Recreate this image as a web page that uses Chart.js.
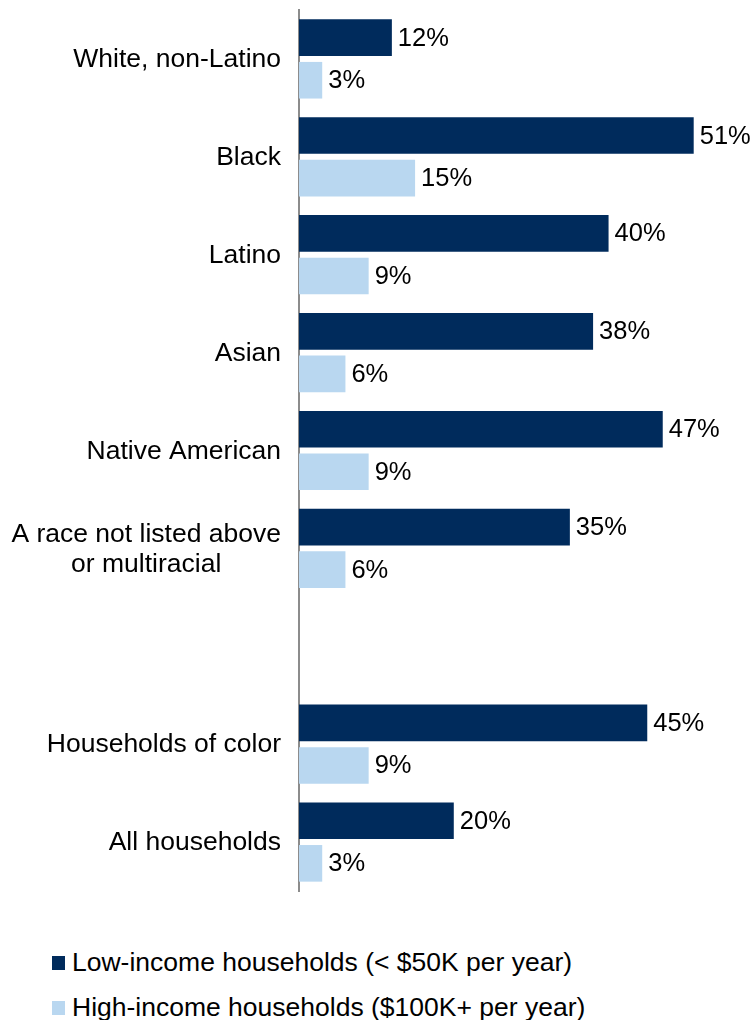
<!DOCTYPE html>
<html>
<head>
<meta charset="utf-8">
<script src="https://cdn.jsdelivr.net/npm/chart.js@4/dist/chart.umd.min.js"></script>
<style>
  body { margin: 0; background: #fff; font-family: "Liberation Sans", Arial, sans-serif; }
  #wrap { position: relative; width: 752px; height: 920px; }
  #legend { position: absolute; left: 52px; top: 940px; }
  .item { display: flex; align-items: center; height: 45px; font-size: 26.5px; color: #000; }
  .box { width: 13px; height: 14px; margin-right: 7px; }
</style>
</head>
<body>
<div id="wrap"><canvas id="myChart"></canvas></div>
<div id="legend"></div>
<script>
const categories = [
  'White, non-Latino',
  'Black',
  'Latino',
  'Asian',
  'Native American',
  ['A race not listed above', 'or multiracial'],
  '',
  'Households of color',
  'All households'
];
const lowIncome = [12, 51, 40, 38, 47, 35, null, 45, 20];
const highIncome = [3, 15, 9, 6, 9, 6, null, 9, 3];
const seriesNames = ['Low-income households (< $50K per year)', 'High-income households ($100K+ per year)'];
const seriesColors = ['#002B5C', '#B9D7F0'];

const FONT = '26.5px "Liberation Sans", Arial, sans-serif';
const VALUE_FONT = '25.5px "Liberation Sans", Arial, sans-serif';

// value labels at the end of each bar
const valueLabels = {
  id: 'valueLabels',
  afterDatasetsDraw(chart) {
    const ctx = chart.ctx;
    ctx.save();
    ctx.font = VALUE_FONT;
    ctx.fillStyle = '#000';
    ctx.textAlign = 'left';
    ctx.textBaseline = 'middle';
    chart.data.datasets.forEach((ds, i) => {
      chart.getDatasetMeta(i).data.forEach((bar, j) => {
        if (ds.data[j] == null) return;
        ctx.fillText(ds.data[j] + '%', bar.x + 6, bar.y + 1);
      });
    });
    ctx.restore();
  }
};

// category labels, multi-line ones centred as a block
const catLabels = {
  id: 'catLabels',
  afterDraw(chart) {
    const ctx = chart.ctx;
    const y = chart.scales.y;
    const right = y.right - 18;
    ctx.save();
    ctx.font = FONT;
    ctx.fillStyle = '#000';
    ctx.textAlign = 'center';
    ctx.textBaseline = 'middle';
    categories.forEach((lab, i) => {
      const lines = Array.isArray(lab) ? lab : [lab];
      const widest = Math.max(...lines.map(l => ctx.measureText(l).width));
      const cy = y.getPixelForValue(i);
      const lh = 30;
      lines.forEach((l, k) => {
        ctx.fillText(l, right - widest / 2, cy + 1 + (k - (lines.length - 1) / 2) * lh);
      });
    });
    ctx.restore();
  }
};

const ctx = document.getElementById('myChart').getContext('2d');
const myChart = new Chart(ctx, {
  type: 'bar',
  data: {
    labels: categories,
    datasets: [{
      label: seriesNames[0],
      data: lowIncome,
      backgroundColor: seriesColors[0],
      borderWidth: 0
    }, {
      label: seriesNames[1],
      data: highIncome,
      backgroundColor: seriesColors[1],
      borderWidth: 0
    }]
  },
  options: {
    indexAxis: 'y',
    responsive: true,
    maintainAspectRatio: false,
    animation: false,
    categoryPercentage: 0.87,
    barPercentage: 0.86,
    layout: {
      padding: { top: 10, bottom: 29, left: 0, right: 8 }
    },
    plugins: {
      legend: { display: false },
      tooltip: { enabled: false }
    },
    scales: {
      x: {
        display: false,
        min: 0,
        max: 57.5
      },
      y: {
        grid: { display: false },
        border: { display: true, color: '#8c8c8c', width: 2 },
        ticks: { display: false },
        afterFit(scale) { scale.width = 299; }
      }
    }
  },
  plugins: [valueLabels, catLabels]
});

const legend = document.getElementById('legend');
seriesNames.forEach((name, i) => {
  const item = document.createElement('div');
  item.className = 'item';
  item.innerHTML = '<span class="box" style="background:' + seriesColors[i] + '"></span><span>' + name + '</span>';
  legend.appendChild(item);
});
</script>
</body>
</html>
